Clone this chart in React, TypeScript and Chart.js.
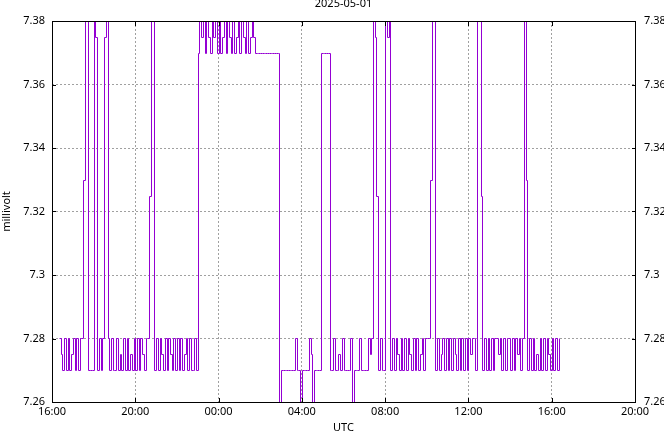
import React, { useEffect, useRef } from "react";
import { Chart, registerables } from "chart.js";

Chart.register(...registerables);

const TITLE = "2025-05-01";
const X_TITLE = "UTC";
const Y_TITLE = "millivolt";

// x axis: minutes since 2025-04-30 16:00 UTC, samples every 5 minutes
const SAMPLE_MINUTES = 5;
const X_MIN = 0;
const X_MAX = 1680;
const X_STEP = 240;
const X_TICK_LABELS = ["16:00", "20:00", "00:00", "04:00", "08:00", "12:00", "16:00", "20:00"];

const Y_MIN = 7.26;
const Y_MAX = 7.38;
const Y_STEP = 0.02;
const Y_TICK_LABELS = ["7.26", "7.28", "7.3", "7.32", "7.34", "7.36", "7.38"];

// values per hour (12 samples each)
const h16 = [null, null, null, null, 7.28, 7.275, 7.27, 7.28, 7.27, 7.28, 7.27, 7.275];
const h17 = [7.28, 7.27, 7.28, 7.27, 7.28, 7.28, 7.33, 7.39, 7.39, 7.27, 7.27, 7.27];
const h18 = [7.39, 7.375, 7.27, 7.28, 7.27, 7.28, 7.375, 7.39, 7.28, 7.27, 7.28, 7.27];
const h19 = [7.27, 7.28, 7.27, 7.275, 7.27, 7.28, 7.27, 7.28, 7.27, 7.275, 7.27, 7.28];
const h20 = [7.27, 7.28, 7.27, 7.28, 7.275, 7.27, 7.28, 7.28, 7.325, 7.39, 7.39, 7.27];
const h21 = [7.28, 7.27, 7.28, 7.275, 7.27, 7.28, 7.27, 7.28, 7.275, 7.27, 7.28, 7.27];
const h22 = [7.28, 7.27, 7.28, 7.27, 7.275, 7.28, 7.27, 7.28, 7.27, 7.27, 7.28, 7.27];
const h23 = [7.37, 7.39, 7.375, 7.39, 7.37, 7.39, 7.375, 7.37, 7.39, 7.375, 7.39, 7.37];
const h00 = [7.39, 7.37, 7.375, 7.39, 7.37, 7.39, 7.375, 7.37, 7.39, 7.37, 7.375, 7.39];
const h01 = [7.37, 7.39, 7.375, 7.37, 7.39, 7.37, 7.375, 7.39, 7.375, 7.37, 7.37, 7.37];
const h02 = [7.37, 7.37, 7.37, 7.37, 7.37, 7.37, 7.37, 7.37, 7.37, 7.37, 7.37, 7.25];
const h03 = [7.27, 7.27, 7.27, 7.27, 7.27, 7.27, 7.27, 7.27, 7.28, 7.27, 7.27, 7.25];
const h04 = [7.27, 7.27, 7.27, 7.27, 7.28, 7.275, 7.25, 7.27, 7.27, 7.27, 7.27, 7.37];
const h05 = [7.37, 7.37, 7.37, 7.37, 7.27, 7.27, 7.28, 7.27, 7.27, 7.275, 7.27, 7.28];
const h06 = [7.27, 7.27, 7.27, 7.27, 7.28, 7.25, 7.27, 7.27, 7.27, 7.28, 7.27, 7.27];
const h07 = [7.27, 7.27, 7.28, 7.275, 7.28, 7.39, 7.375, 7.325, 7.27, 7.28, 7.27, 7.27];
const h08 = [7.39, 7.375, 7.39, 7.27, 7.28, 7.27, 7.28, 7.275, 7.27, 7.28, 7.27, 7.28];
const h09 = [7.27, 7.28, 7.275, 7.27, 7.28, 7.27, 7.28, 7.27, 7.275, 7.28, 7.27, 7.28];
const h10 = [7.28, 7.28, 7.33, 7.39, 7.39, 7.27, 7.28, 7.27, 7.275, 7.28, 7.27, 7.28];
const h11 = [7.27, 7.28, 7.27, 7.28, 7.275, 7.27, 7.28, 7.27, 7.28, 7.27, 7.28, 7.27];
const h12 = [7.28, 7.275, 7.28, 7.28, 7.27, 7.39, 7.39, 7.325, 7.27, 7.28, 7.27, 7.28];
const h13 = [7.27, 7.28, 7.27, 7.28, 7.28, 7.275, 7.28, 7.27, 7.28, 7.27, 7.28, 7.28];
const h14 = [7.27, 7.28, 7.27, 7.28, 7.275, 7.28, 7.27, 7.28, 7.39, 7.33, 7.27, 7.28];
const h15 = [7.27, 7.28, 7.27, 7.275, 7.27, 7.28, 7.27, 7.28, 7.27, 7.28, 7.275, 7.27];
const h16b = [7.28, 7.27, 7.28, 7.27, 7.28];

const VALUES: (number | null)[] = [
  ...h16, ...h17, ...h18, ...h19, ...h20, ...h21, ...h22, ...h23,
  ...h00, ...h01, ...h02, ...h03, ...h04, ...h05, ...h06, ...h07,
  ...h08, ...h09, ...h10, ...h11, ...h12, ...h13, ...h14, ...h15, ...h16b,
];

const FONT = "'Noto Sans', sans-serif";

// snap line vertices to the pixel grid so 1px steps render crisp
const crispPlugin = {
  id: "crisp",
  beforeDatasetsDraw(chart: any) {
    chart.getSortedVisibleDatasetMetas().forEach((meta: any) => {
      meta.data.forEach((p: any) => {
        p.x = Math.round(p.x) + 0.5;
        p.y = Math.round(p.y) + 0.5;
      });
    });
  },
};

const frameTicksPlugin = {
  id: "frameTicks",
  afterDraw(chart: any) {
    const { ctx, chartArea } = chart;
    const { left, right, top, bottom } = chartArea;
    ctx.save();
    ctx.strokeStyle = "#000";
    ctx.lineWidth = 1;
    ctx.setLineDash([]);
    ctx.strokeRect(left + 0.5, top + 0.5, right - left, bottom - top);
    const len = 4;
    ctx.beginPath();
    const xs = chart.scales.x;
    xs.ticks.forEach((t: any) => {
      const px = Math.round(xs.getPixelForValue(t.value)) + 0.5;
      ctx.moveTo(px, bottom);
      ctx.lineTo(px, bottom - len);
      ctx.moveTo(px, top + 1);
      ctx.lineTo(px, top + 1 + len);
    });
    const ys = chart.scales.y;
    ys.ticks.forEach((t: any) => {
      const py = Math.round(ys.getPixelForValue(t.value)) + 0.5;
      ctx.moveTo(left, py);
      ctx.lineTo(left + len, py);
      ctx.moveTo(right + 1, py);
      ctx.lineTo(right + 1 - len, py);
    });
    ctx.stroke();
    ctx.restore();
  },
};

export default function App() {
  const ref = useRef<HTMLCanvasElement | null>(null);

  useEffect(() => {
    if (!ref.current) return;
    const points = VALUES.map((v, i) => ({ x: i * SAMPLE_MINUTES, y: v })).filter(
      (p) => p.y !== null
    );
    const tickFont = { family: FONT, size: 11 };
    const chart = new Chart(ref.current, {
      type: "line",
      data: {
        datasets: [
          {
            data: points as any,
            borderColor: "#9400d3",
            borderWidth: 1,
            pointRadius: 0,
            fill: false,
            stepped: "before",
            tension: 0,
          },
        ],
      },
      options: {
        animation: false,
        responsive: false,
        devicePixelRatio: 1,
        layout: { padding: 0 },
        plugins: {
          legend: { display: false },
          tooltip: { enabled: false },
          title: {
            display: true,
            text: TITLE,
            fullSize: false,
            color: "#000",
            font: { family: FONT, size: 11, weight: "normal", lineHeight: "8px" },
            padding: { top: 0, bottom: 13 },
          },
        },
        scales: {
          x: {
            type: "linear",
            min: X_MIN,
            max: X_MAX,
            afterFit: (s: any) => {
              s.height = 30;
            },
            ticks: {
              stepSize: X_STEP,
              autoSkip: false,
              maxRotation: 0,
              padding: 3,
              color: "#000",
              font: tickFont,
              callback: (_v: any, i: number) => X_TICK_LABELS[i],
            },
            grid: { color: "#a0a0a0", drawTicks: false, lineWidth: 1 },
            border: { display: false, dash: [2, 2] },
            title: {
              display: true,
              text: X_TITLE,
              color: "#000",
              font: { family: FONT, size: 11, lineHeight: "9px" },
              padding: 0,
            },
          },
          y: {
            type: "linear",
            position: "left",
            min: Y_MIN,
            max: Y_MAX,
            afterFit: (s: any) => {
              s.width = 52;
            },
            ticks: {
              stepSize: Y_STEP,
              padding: 7,
              color: "#000",
              font: tickFont,
              callback: (_v: any, i: number) => Y_TICK_LABELS[i],
            },
            grid: { color: "#a0a0a0", drawTicks: false, lineWidth: 1 },
            border: { display: false, dash: [2, 2] },
            title: {
              display: true,
              text: Y_TITLE,
              color: "#000",
              font: { family: FONT, size: 11 },
              padding: 0,
            },
          },
          y2: {
            type: "linear",
            position: "right",
            min: Y_MIN,
            max: Y_MAX,
            afterFit: (s: any) => {
              s.width = 29;
            },
            ticks: {
              stepSize: Y_STEP,
              padding: 9,
              color: "#000",
              font: tickFont,
              callback: (_v: any, i: number) => Y_TICK_LABELS[i],
            },
            grid: { display: false, drawTicks: false },
            border: { display: false },
          },
        },
      },
      plugins: [crispPlugin, frameTicksPlugin],
    });
    return () => chart.destroy();
  }, []);

  return (
    <div style={{ position: "absolute", left: 0, top: 0, width: 664, height: 432, background: "#fff" }}>
      <canvas ref={ref} width={664} height={432} style={{ display: "block" }} />
    </div>
  );
}
